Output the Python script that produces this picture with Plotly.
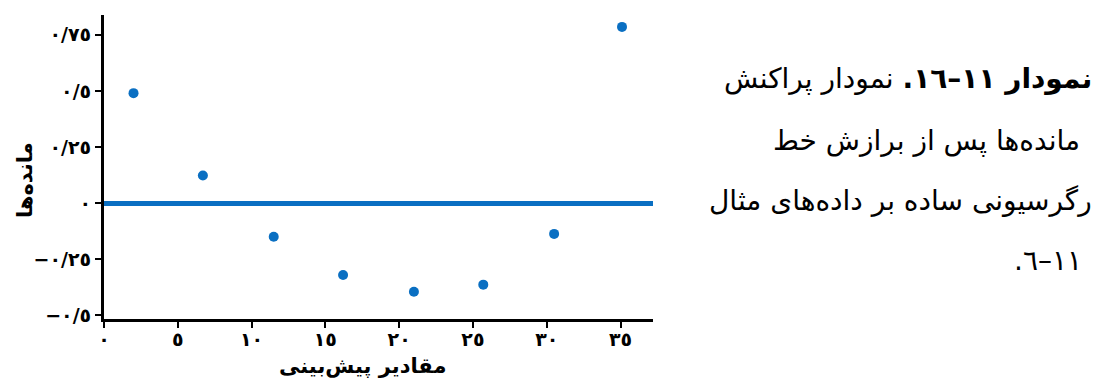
import plotly.graph_objects as go

# Data
predicted = [2.0, 6.7, 11.5, 16.2, 21.0, 25.7, 30.5, 35.1]
residuals = [0.49, 0.123, -0.15, -0.32, -0.395, -0.363, -0.137, 0.785]

x_tickvals = [0, 5, 10, 15, 20, 25, 30, 35]
x_ticktext = ["٠", "٥", "١٠", "١٥", "٢٠", "٢٥", "٣٠", "٣٥"]
y_tickvals = [0.75, 0.5, 0.25, 0, -0.25, -0.5]
y_ticktext = ["٠/٧٥", "٠/٥", "٠/٢٥", "٠", "−٠/٢٥", "−٠/٥"]

x_title = "مقادیر پیش‌بینی"
y_title = "مانده‌ها"
caption_lines = [
    "<b>نمودار ۱۱–۱٦.</b> نمودار پراکنش",
    "مانده‌ها پس از برازش خط",
    "رگرسیونی ساده بر داده‌های مثال",
    "۱۱–٦.",
]

BLUE = "#0a6fc2"
RLE, PDF = "\u202B", "\u202C"
OFF = 8  # page body margin

fig = go.Figure()
fig.add_trace(go.Scatter(
    x=predicted, y=residuals, mode="markers",
    marker=dict(size=10, color=BLUE),
    showlegend=False, hoverinfo="skip",
))

W, H = 1101 - OFF, 383 - OFF
# plot area in page pixels: left 104, right 653, top 15, bottom 319
L, T = 104 - OFF, 15 - OFF
R = W - (653 - OFF)
B = H - (319 - OFF)
pw, ph = W - L - R, H - T - B

def px(x):
    return (x - OFF - L) / pw

def py(y):
    return (H - B - (y - OFF)) / ph

fig.update_layout(
    width=W, height=H,
    margin=dict(l=L, r=R, t=T, b=B, autoexpand=False),
    paper_bgcolor="white", plot_bgcolor="white",
    font=dict(family="DejaVu Sans", color="black"),
    xaxis=dict(
        range=[0, 37.2], showgrid=False, zeroline=False,
        showline=True, linecolor="black", linewidth=3,
        ticks="outside", ticklen=6, tickwidth=1.5, tickcolor="black",
        tickvals=x_tickvals, ticktext=x_ticktext,
        tickfont=dict(size=19, weight="bold", family="DejaVu Sans"),
        ticklabelstandoff=-5,
    ),
    yaxis=dict(
        range=[-0.516, 0.838], showgrid=False,
        zeroline=True, zerolinecolor=BLUE, zerolinewidth=5,
        showline=True, linecolor="black", linewidth=3,
        ticks="outside", ticklen=6, tickwidth=1.5, tickcolor="black",
        tickvals=y_tickvals, ticktext=y_ticktext,
        tickfont=dict(size=19, weight="bold", family="DejaVu Sans"),
        ticklabelstandoff=0,
    ),
)

anns = [
    dict(text=RLE + y_title + PDF, x=px(25), y=py(180), textangle=-90,
         xanchor="center", yanchor="middle",
         font=dict(size=21, weight="bold")),
    dict(text=RLE + x_title + PDF, x=px(362), y=py(366),
         xanchor="center", yanchor="middle",
         font=dict(size=21, weight="bold")),
]
cap_y = [78, 140, 200, 260]
cap_x = [1094, 1082, 1094, 1084]
for t, yy, xx in zip(caption_lines, cap_y, cap_x):
    anns.append(dict(text=RLE + t + PDF, x=px(xx), y=py(yy),
                     xanchor="right", yanchor="middle",
                     font=dict(size=28)))
for a in anns:
    a.update(xref="paper", yref="paper", showarrow=False)
fig.update_layout(annotations=anns)

fig.write_html("out.html")
